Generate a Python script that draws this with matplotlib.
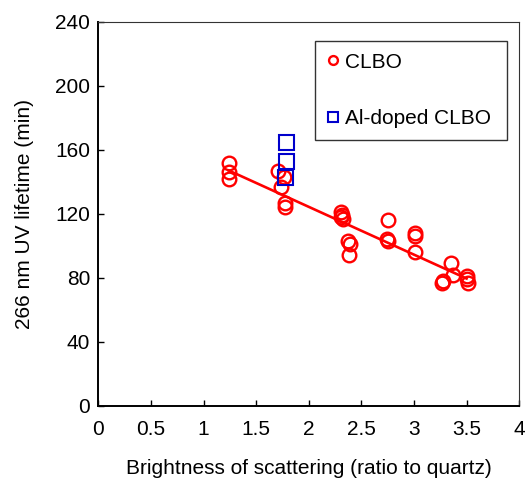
import matplotlib.pyplot as plt

plt.rcParams['font.family'] = ['Liberation Sans', 'DejaVu Sans']

# CLBO crystals: scattering brightness vs 266 nm lifetime
clbo_x = [1.24, 1.24, 1.24, 1.71, 1.74, 1.76, 1.77, 1.77,
          2.31, 2.32, 2.33, 2.31, 2.37, 2.39, 2.38,
          2.75, 2.74, 2.75, 3.01, 3.01, 3.01,
          3.35, 3.37, 3.27, 3.28, 3.50, 3.50, 3.51]
clbo_y = [152, 146, 142, 147, 137, 143, 127, 124,
          121, 119, 117, 118, 103, 101, 94,
          116, 104, 103, 108, 106, 96,
          89, 82, 77, 78, 81, 79, 77]

# Al-doped CLBO
al_x = [1.78, 1.78, 1.77]
al_y = [165, 153, 143]

# linear trend through the CLBO points
fit_x = [1.24, 3.50]
fit_y = [147, 79.5]

fig = plt.figure(figsize=(5.26, 4.83), dpi=100)
ax = fig.add_axes([0.187, 0.160, 0.800, 0.795])

ax.plot(fit_x, fit_y, color='red', lw=1.9, zorder=2)
ax.plot(clbo_x, clbo_y, 'o', ls='none', mfc='none', mec='red',
        ms=9.8, mew=1.7, label='CLBO', zorder=3)
ax.plot(al_x, al_y, 's', ls='none', mfc='none', mec='#0000CC',
        ms=10.8, mew=1.5, label='Al-doped CLBO', zorder=4)

ax.set_xlim(0, 4)
ax.set_ylim(0, 240)
ax.set_xticks([0, 0.5, 1, 1.5, 2, 2.5, 3, 3.5, 4])
ax.set_xticklabels(['0', '0.5', '1', '1.5', '2', '2.5', '3', '3.5', '4'])
ax.set_yticks(range(0, 241, 40))

ax.tick_params(axis='both', direction='in', length=4, width=1, labelsize=15)
ax.tick_params(axis='x', pad=10)
ax.tick_params(axis='y', pad=6)

for s in ['left', 'bottom']:
    ax.spines[s].set_linewidth(1.4)
for s in ['top', 'right']:
    ax.spines[s].set_linewidth(0.8)
    ax.spines[s].set_color('#333333')

ax.set_xlabel('Brightness of scattering (ratio to quartz)', fontsize=15, labelpad=15)
ax.set_ylabel('266 nm UV lifetime (min)', fontsize=15, labelpad=15)

leg = ax.legend(loc='upper left', bbox_to_anchor=(0.515, 0.949, 0.456, 0),
                mode='expand', fontsize=15, markerscale=0.65, handlelength=0.6,
                handletextpad=0.3, labelspacing=1.8, borderpad=0.55,
                fancybox=False, framealpha=1, borderaxespad=0)
leg.get_frame().set_edgecolor('#333333')
leg.get_frame().set_linewidth(1.0)

fig.savefig('out.png', dpi=100)
